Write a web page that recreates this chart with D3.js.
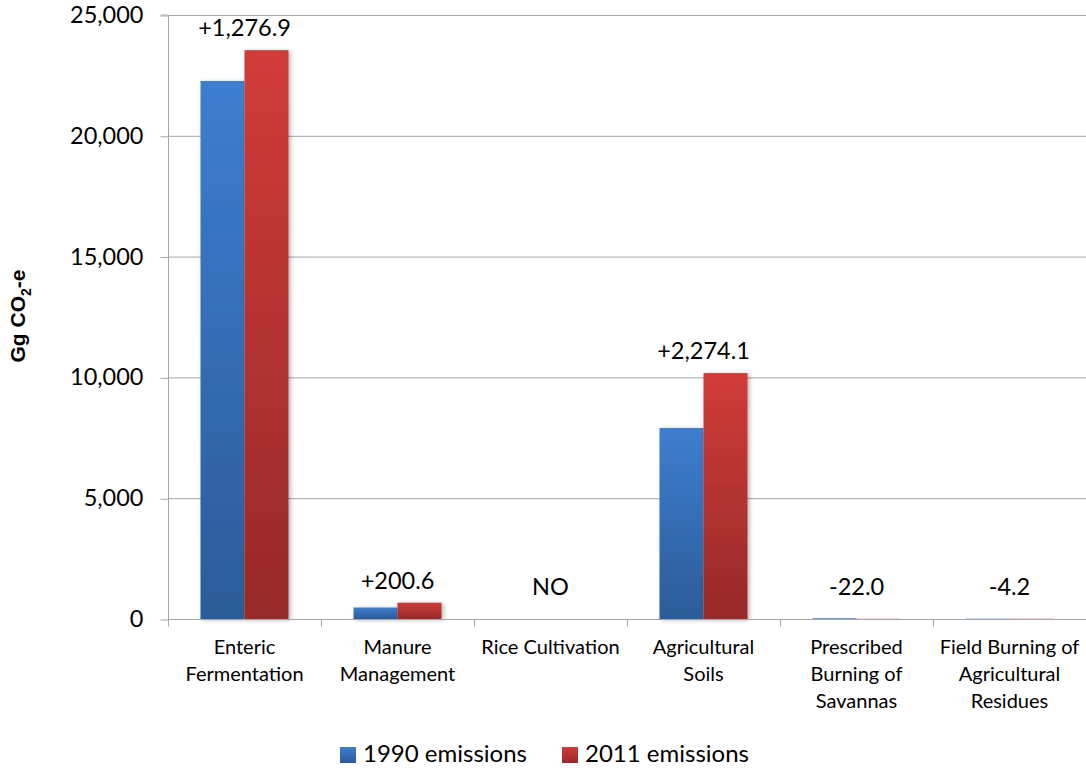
<!DOCTYPE html>
<html>
<head>
<meta charset="utf-8">
<script src="https://cdn.jsdelivr.net/npm/d3@7"></script>
<style>
  html, body { margin: 0; padding: 0; background: #fff; }
  svg { display: block; }
  text { font-family: Lato, "Open Sans", sans-serif; fill: #000; }
</style>
</head>
<body>
<svg id="chart" width="1086" height="770"></svg>
<script>
// Agricultural emissions by source, Gg CO2-e
const categories = [
  ["Enteric", "Fermentation"],
  ["Manure", "Management"],
  ["Rice Cultivation"],
  ["Agricultural", "Soils"],
  ["Prescribed", "Burning of", "Savannas"],
  ["Field Burning of", "Agricultural", "Residues"]
];
const seriesNames = ["1990 emissions", "2011 emissions"];
const emissions1990 = [22268.0, 475.0, 0, 7905.0, 29.8, 13.5];
const emissions2011 = [23544.9, 675.6, 0, 10179.1, 7.8, 9.3];
const changeLabels = ["+1,276.9", "+200.6", "NO", "+2,274.1", "-22.0", "-4.2"];
const yTicks = [0, 5000, 10000, 15000, 20000, 25000];

const svg = d3.select("#chart");
const margin = { left: 168, right: 0, top: 15, bottom: 151 };
const W = 1086, H = 770;
const plotBottom = H - margin.bottom;

const x0 = d3.scaleBand()
  .domain(d3.range(categories.length))
  .range([margin.left, W - margin.right])
  .paddingInner(0.425)
  .paddingOuter(0.2125);
const x1 = d3.scaleBand().domain([0, 1]).range([0, x0.bandwidth()]);
const y = d3.scaleLinear().domain([0, 25000]).range([plotBottom, margin.top]);

// gradients and shadow
const defs = svg.append("defs");
const grads = [
  { id: "gBlue", top: "#3d7ecf", bottom: "#2c5b98" },
  { id: "gRed", top: "#d03c38", bottom: "#97292a" }
];
grads.forEach(g => {
  const lg = defs.append("linearGradient").attr("id", g.id)
    .attr("x1", 0).attr("y1", 0).attr("x2", 0).attr("y2", 1);
  lg.append("stop").attr("offset", "0%").attr("stop-color", g.top);
  lg.append("stop").attr("offset", "100%").attr("stop-color", g.bottom);
});
const f = defs.append("filter").attr("id", "shadow")
  .attr("x", "-20%").attr("y", "-20%").attr("width", "150%").attr("height", "150%");
f.append("feDropShadow").attr("dx", 2).attr("dy", 1).attr("stdDeviation", 2)
  .attr("flood-color", "#000").attr("flood-opacity", 0.3);

// gridlines
svg.append("g").selectAll("line").data(yTicks.filter(d => d > 0)).join("line")
  .attr("x1", margin.left).attr("x2", W)
  .attr("y1", d => y(d) + 0.5).attr("y2", d => y(d) + 0.5)
  .attr("stroke", "#a6a6a6").attr("stroke-width", 1);

// y axis
const yAxis = d3.axisLeft(y).tickValues(yTicks).tickSize(8).tickPadding(17)
  .tickFormat(d3.format(","));
const gy = svg.append("g").attr("transform", `translate(${margin.left + 0.5},0)`).call(yAxis);
gy.select(".domain").attr("stroke", "#a6a6a6").attr("d", `M-8,${y(25000)}H0V${plotBottom}`);
gy.selectAll(".tick line").attr("stroke", "#a6a6a6").attr("transform", "translate(0,0.5)");
gy.selectAll(".tick text").style("font-size", "23.5px").style("font-family", "Lato, sans-serif").attr("fill", "#000");

// bars
const data = categories.map((c, i) => ({ i, vals: [emissions1990[i], emissions2011[i]] }));
const groups = svg.append("g").selectAll("g").data(data).join("g")
  .attr("transform", d => `translate(${x0(d.i)},0)`);
groups.selectAll("rect").data(d => d.vals.map((v, s) => ({ v, s }))).join("rect")
  .attr("x", d => x1(d.s))
  .attr("width", x1.bandwidth())
  .attr("y", d => y(d.v))
  .attr("height", d => plotBottom - y(d.v))
  .attr("fill", d => d.s === 0 ? "url(#gBlue)" : "url(#gRed)")
  .attr("filter", d => (plotBottom - y(d.v)) > 3 ? "url(#shadow)" : null);

// x axis with tick marks at category boundaries
const gx = svg.append("g").attr("transform", `translate(0,${plotBottom + 0.5})`);
gx.append("line").attr("x1", margin.left).attr("x2", W).attr("stroke", "#a6a6a6");
const boundaries = d3.range(categories.length).map(i => x0(i) - (x0.step() - x0.bandwidth()) / 2);
gx.selectAll("line.tk").data(boundaries).join("line").attr("class", "tk")
  .attr("x1", d => Math.round(d) + 0.5).attr("x2", d => Math.round(d) + 0.5)
  .attr("y1", 0).attr("y2", 7).attr("stroke", "#a6a6a6");

// category labels
const catG = svg.append("g");
categories.forEach((lines, i) => {
  const cx = x0(i) + x0.bandwidth() / 2;
  const t = catG.append("text")
    .attr("x", cx)
    .attr("y", plotBottom + 35)
    .attr("text-anchor", "middle")
    .style("font-size", "20px");
  lines.forEach((ln, k) => {
    t.append("tspan").attr("x", cx).attr("dy", k === 0 ? 0 : 27).text(ln);
  });
});

// change labels above each group
svg.append("g").selectAll("text").data(data).join("text")
  .attr("x", d => x0(d.i) + x0.bandwidth() / 2)
  .attr("y", d => Math.min(y(d3.max(d.vals)) - 14, plotBottom - 24))
  .attr("text-anchor", "middle")
  .style("font-size", "23.5px")
  .text(d => changeLabels[d.i]);

// y axis title
const yt = svg.append("text")
  .attr("transform", `translate(25,316) rotate(-90)`)
  .attr("text-anchor", "middle")
  .style("font-family", "'Liberation Sans', Arial, sans-serif")
  .style("font-weight", "bold")
  .style("font-size", "21px");
yt.append("tspan").text("Gg CO");
yt.append("tspan").attr("dy", 6).style("font-size", "14px").text("2");
yt.append("tspan").attr("dy", -6).text("-e");

// legend
const legend = svg.append("g");
const legendX = [340, 562];
seriesNames.forEach((name, s) => {
  legend.append("rect").attr("x", legendX[s]).attr("y", 747).attr("width", 16).attr("height", 16)
    .attr("fill", s === 0 ? "url(#gBlue)" : "url(#gRed)");
  legend.append("text").attr("x", legendX[s] + 23).attr("y", 762)
    .style("font-size", "24px").text(name);
});
</script>
</body>
</html>
